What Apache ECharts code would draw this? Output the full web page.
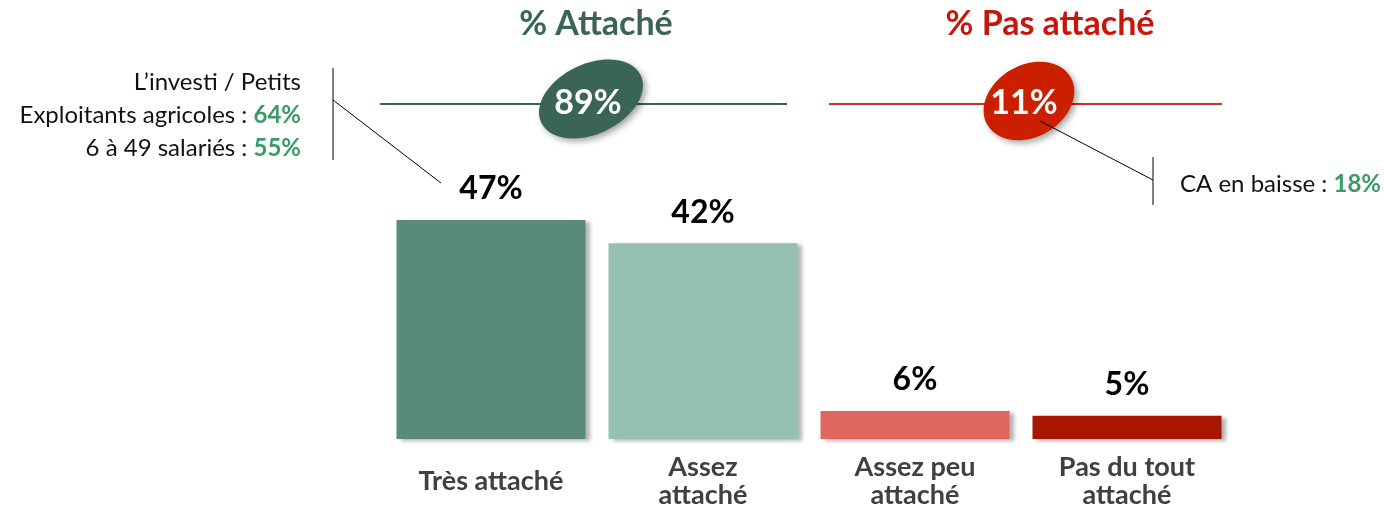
<!DOCTYPE html>
<html>
<head>
<meta charset="utf-8">
<script src="https://cdn.jsdelivr.net/npm/echarts@6/dist/echarts.min.js"></script>
<style>
  html, body { margin: 0; padding: 0; background: #fff; }
  #chart { width: 1385px; height: 512px; }
</style>
</head>
<body>
<div id="chart"></div>
<script>
// attachment levels
let categories = ['Très attaché', 'Assez\nattaché', 'Assez peu\nattaché', 'Pas du tout\nattaché'];
let values = [47, 42, 6, 5];
let barColors = ['#5a8a7a', '#96c1b2', '#e06660', '#aa1500'];

// summary totals
let groupTitles = ['% Attaché', '% Pas attaché'];
let groupValues = [89, 11];

// side notes
let leftNote = [['L\u2019investi / Petits', ''], ['Exploitants agricoles : ', '64%'], ['6 à 49 salariés : ', '55%']];
let rightNote = [['CA en baisse : ', '18%']];

let font = 'Lato, "Open Sans", sans-serif';
let green = '#3a6454';
let red = '#c8160c';

function noteText(rows) {
    return rows.map(function (r) {
        return r[0] + (r[1] ? '{g|' + r[1] + '}' : '');
    }).join('\n');
}

let chart = echarts.init(document.getElementById('chart'));

let graphic = [
    // headers
    { type: 'text', x: 596, y: 24, style: { text: groupTitles[0], fill: green, font: 'bold 34px ' + font, align: 'center', verticalAlign: 'middle' } },
    { type: 'text', x: 1050, y: 24, style: { text: groupTitles[1], fill: red, font: 'bold 34px ' + font, align: 'center', verticalAlign: 'middle' } },
    // horizontal rules
    { type: 'line', shape: { x1: 380, y1: 104, x2: 787, y2: 104 }, style: { stroke: green, lineWidth: 2 } },
    { type: 'line', shape: { x1: 829, y1: 104, x2: 1222, y2: 104 }, style: { stroke: '#d42b1a', lineWidth: 2 } },
    // ellipses
    { type: 'ellipse', x: 591, y: 99, rotation: 0.44, shape: { cx: 0, cy: 0, rx: 55, ry: 35 },
      style: { fill: green, shadowBlur: 6, shadowOffsetX: 3, shadowOffsetY: 3, shadowColor: 'rgba(0,0,0,0.35)' } },
    { type: 'ellipse', x: 1029, y: 101, rotation: 0.52, shape: { cx: 0, cy: 0, rx: 48, ry: 36 },
      style: { fill: '#cc1f00', shadowBlur: 6, shadowOffsetX: 3, shadowOffsetY: 3, shadowColor: 'rgba(0,0,0,0.35)' } },
    { type: 'text', x: 588, y: 103, style: { text: groupValues[0] + '%', fill: '#fff', font: 'bold 34px ' + font, align: 'center', verticalAlign: 'middle' } },
    { type: 'text', x: 1024, y: 103, style: { text: groupValues[1] + '%', fill: '#fff', font: 'bold 34px ' + font, align: 'center', verticalAlign: 'middle' } },
    // left callout
    { type: 'line', shape: { x1: 333, y1: 68, x2: 333, y2: 160 }, style: { stroke: '#000', lineWidth: 1 } },
    { type: 'line', shape: { x1: 333, y1: 100, x2: 441, y2: 183 }, style: { stroke: '#000', lineWidth: 1 } },
    { type: 'text', x: 301, y: 115, style: {
        text: noteText(leftNote), fill: '#111', font: '24px ' + font, align: 'right', verticalAlign: 'middle', lineHeight: 33,
        rich: { g: { fill: '#3a9a6a', fontWeight: 'bold', fontSize: 24, fontFamily: font, lineHeight: 33 } } } },
    // right callout
    { type: 'line', shape: { x1: 1153, y1: 157, x2: 1153, y2: 205 }, style: { stroke: '#000', lineWidth: 1 } },
    { type: 'line', shape: { x1: 1040, y1: 121, x2: 1153, y2: 180 }, style: { stroke: '#000', lineWidth: 1 } },
    { type: 'text', x: 1180, y: 184, style: {
        text: noteText(rightNote), fill: '#111', font: '24px ' + font, align: 'left', verticalAlign: 'middle',
        rich: { g: { fill: '#3a9a6a', fontWeight: 'bold', fontSize: 24, fontFamily: font } } } }
];

chart.setOption({
    animation: false,
    grid: { left: 385, width: 848, top: 206, height: 233 },
    xAxis: {
        type: 'category',
        data: categories,
        axisLine: { show: false },
        axisTick: { show: false },
        axisLabel: {
            interval: 0,
            margin: 42,
            verticalAlign: 'middle',
            color: '#404040',
            fontSize: 27,
            fontWeight: 'bold',
            fontFamily: font,
            lineHeight: 28
        }
    },
    yAxis: { type: 'value', min: 0, max: 50, show: false, splitLine: { show: false } },
    series: [{
        type: 'bar',
        barWidth: 189,
        data: values.map(function (v, i) {
            return { value: v, itemStyle: { color: barColors[i] } };
        }),
        itemStyle: {
            shadowBlur: 4,
            shadowOffsetX: 4,
            shadowOffsetY: 2,
            shadowColor: 'rgba(0,0,0,0.3)'
        },
        label: {
            show: true,
            position: 'top',
            distance: 15,
            formatter: '{c}%',
            color: '#000',
            fontSize: 32,
            fontWeight: 'bold',
            fontFamily: font
        }
    }],
    graphic: graphic
});
</script>
</body>
</html>
